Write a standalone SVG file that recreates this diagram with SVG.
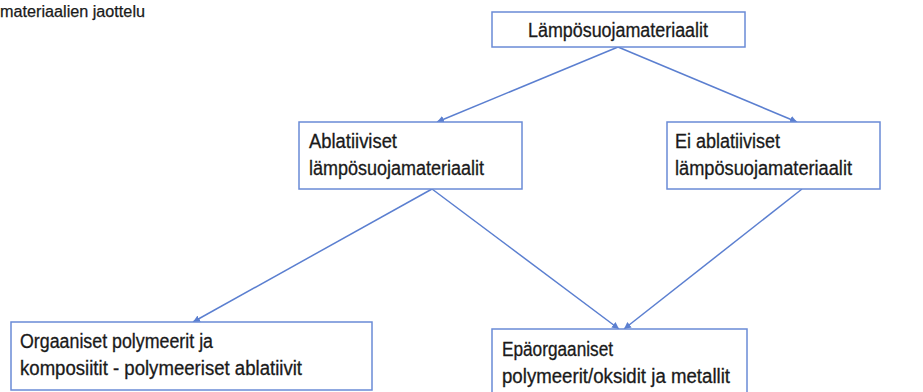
<svg xmlns="http://www.w3.org/2000/svg" width="923" height="392" viewBox="0 0 923 392">
<defs>
<style>
.box{fill:#fff;stroke:#6a8bd6;stroke-width:1.5}
.t{font-family:"Liberation Sans",Arial,sans-serif;font-size:19.5px;fill:#1a1a1a;stroke:#1a1a1a;stroke-width:0.3}
.title{font-family:"Liberation Sans",Arial,sans-serif;font-size:16px;fill:#1a1a1a;stroke:#1a1a1a;stroke-width:0.25}
.c{stroke:#5b7fd0;stroke-width:1.5;fill:none;marker-end:url(#ah)}
</style>
<marker id="ah" viewBox="0 0 10 10" refX="10" refY="5" markerWidth="7" markerHeight="7" markerUnits="userSpaceOnUse" orient="auto">
<path d="M0,0 L10,5 L0,10 z" fill="#5b7fd0"/>
</marker>
</defs>
<rect width="923" height="392" fill="#fff"/>
<text class="title" x="0" y="17" textLength="145" lengthAdjust="spacingAndGlyphs">materiaalien jaottelu</text>
<g id="connectors">
<line class="c" x1="618" y1="47" x2="437" y2="122"/>
<line class="c" x1="618" y1="47" x2="797" y2="122"/>
<line class="c" x1="432" y1="189" x2="193" y2="322"/>
<line class="c" x1="432" y1="189" x2="619" y2="329"/>
<line class="c" x1="802" y1="189" x2="624" y2="329"/>
</g>
<g id="n1">
<rect class="box" x="492" y="12" width="253" height="35"/>
<text class="t" x="528" y="37" textLength="180" lengthAdjust="spacingAndGlyphs">Lämpösuojamateriaalit</text>
</g>
<g id="n2">
<rect class="box" x="299" y="122" width="223" height="67"/>
<text class="t" x="309" y="148" textLength="88" lengthAdjust="spacingAndGlyphs">Ablatiiviset</text>
<text class="t" x="309" y="175" textLength="175" lengthAdjust="spacingAndGlyphs">lämpösuojamateriaalit</text>
</g>
<g id="n3">
<rect class="box" x="667" y="122" width="213" height="67"/>
<text class="t" x="675" y="148" textLength="105" lengthAdjust="spacingAndGlyphs">Ei ablatiiviset</text>
<text class="t" x="675" y="175" textLength="177" lengthAdjust="spacingAndGlyphs">lämpösuojamateriaalit</text>
</g>
<g id="n4">
<rect class="box" x="11" y="322" width="361" height="68"/>
<text class="t" x="20" y="348" textLength="193" lengthAdjust="spacingAndGlyphs">Orgaaniset polymeerit ja</text>
<text class="t" x="20" y="375" textLength="282" lengthAdjust="spacingAndGlyphs">komposiitit - polymeeriset ablatiivit</text>
</g>
<g id="n5">
<rect class="box" x="492" y="329" width="255" height="75"/>
<text class="t" x="502" y="356" textLength="111" lengthAdjust="spacingAndGlyphs">Epäorgaaniset</text>
<text class="t" x="502" y="383" textLength="228" lengthAdjust="spacingAndGlyphs">polymeerit/oksidit ja metallit</text>
</g>
</svg>
